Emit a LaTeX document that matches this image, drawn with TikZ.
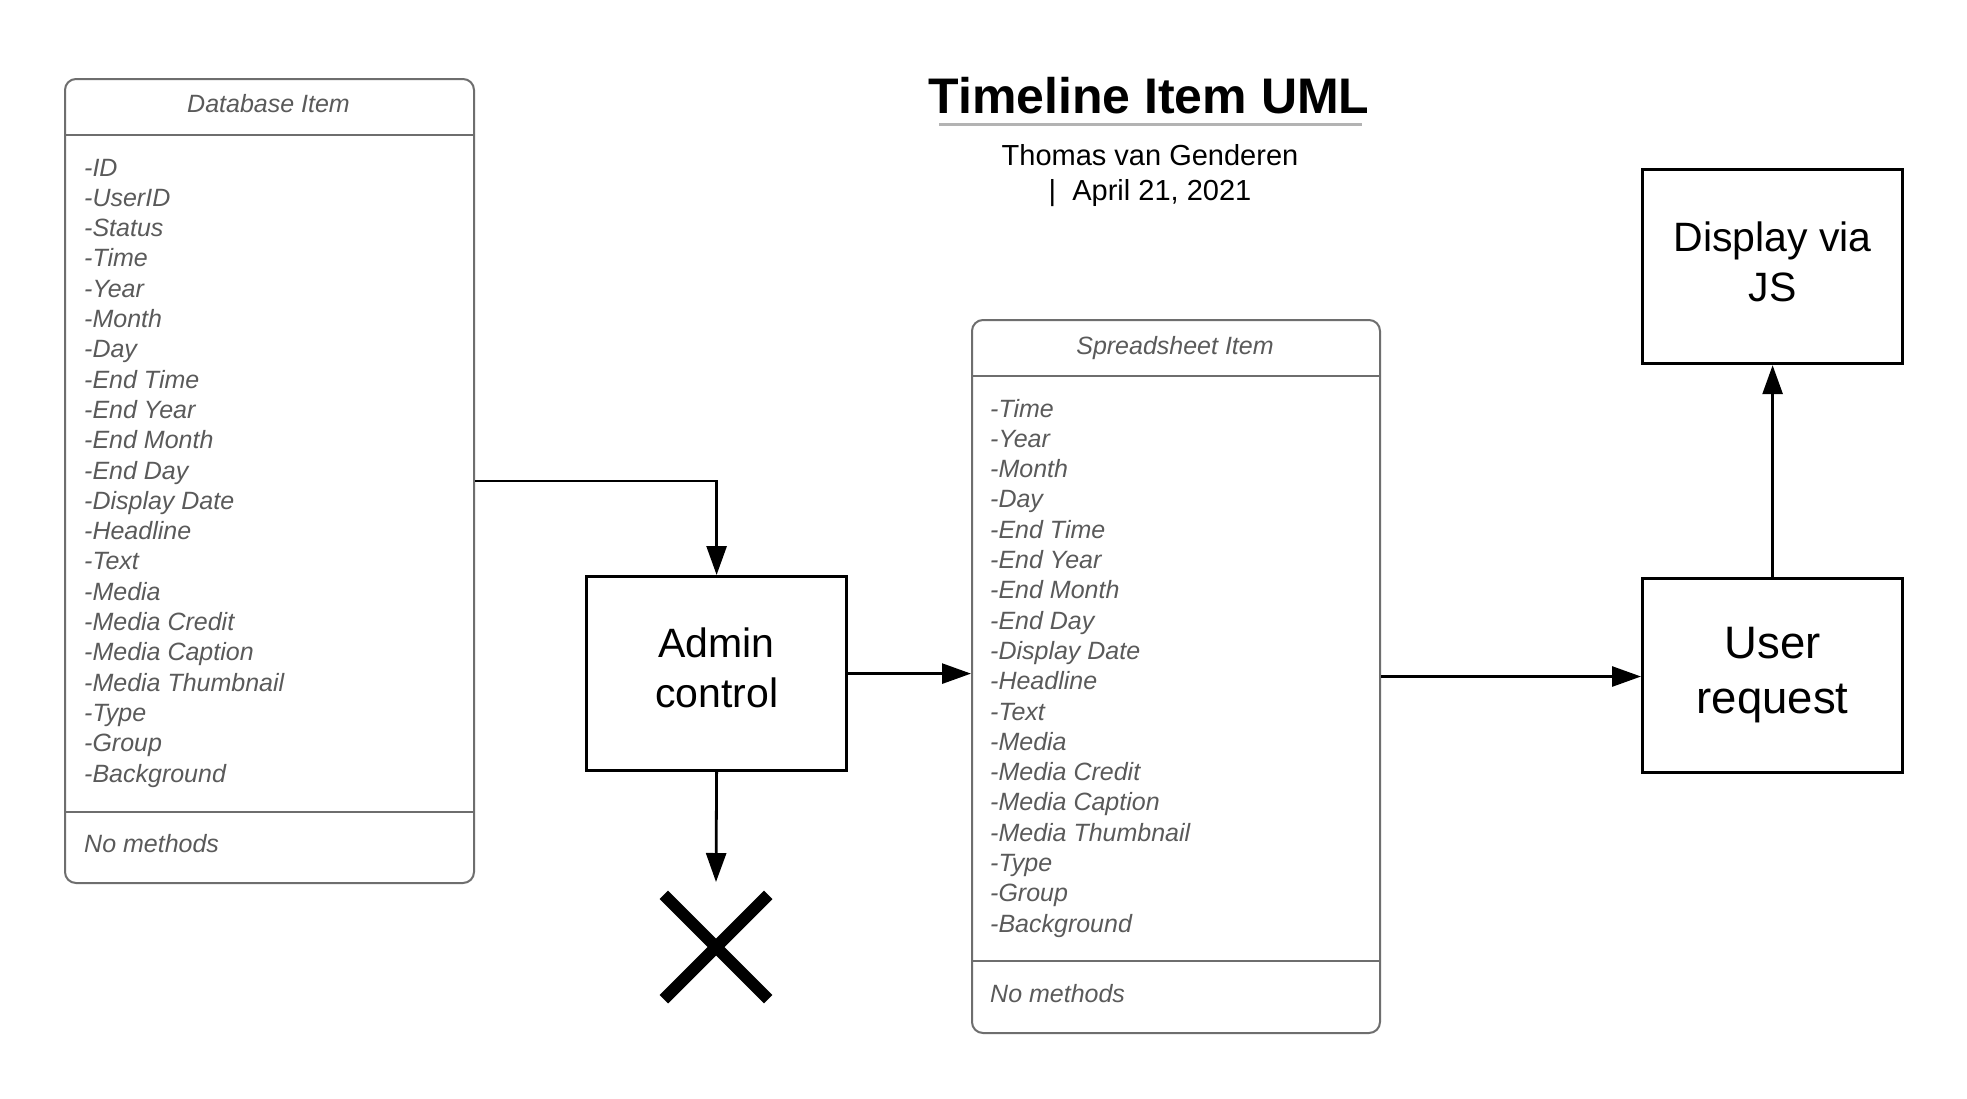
\documentclass[tikz,border=0pt]{standalone}
\usepackage{fontspec}
\setmainfont{Liberation Sans}
\usetikzlibrary{arrows.meta,calc}
\definecolor{umlborder}{HTML}{6E6E6E}
\definecolor{umltext}{HTML}{5A5A5A}
\definecolor{titleline}{HTML}{B3B3B3}
\begin{document}
\begin{tikzpicture}[x=1pt,y=-1pt,
  umlbox/.style={draw=umlborder,line width=2pt,rounded corners=11pt,anchor=north west,inner sep=0pt},
  umlsep/.style={draw=umlborder,line width=2pt},
  umlitem/.style={anchor=base west,inner sep=0pt,text=umltext,font=\fontsize{25}{30}\selectfont\itshape},
  umlhead/.style={anchor=base,inner sep=0pt,text=umltext,font=\fontsize{25}{30}\selectfont\itshape},
  procbox/.style={draw=black,line width=3.2pt,anchor=north west,inner sep=0pt},
  proctext/.style={inner sep=0pt,align=center},
  conn/.style={draw=black,line width=2.8pt,-{Triangle[length=29pt,width=20pt]}}
]
\useasboundingbox (0,0) rectangle (1967,1098);
\fill[white] (0,0) rectangle (1967,1098);

% Title
\node[anchor=base,inner sep=0pt,font=\fontsize{50}{58}\selectfont\bfseries] (title) at (1149,113) {Timeline Item UML};
\draw[titleline,line width=3pt] (939,124) -- (1362,124);
\node[anchor=base,inner sep=0pt,font=\fontsize{29}{34}\selectfont] (author) at (1150,165) {Thomas van Genderen};
\node[anchor=base,inner sep=0pt,font=\fontsize{29}{34}\selectfont] (date) at (1150,200) {|\ \ April 21, 2021};

% Database Item
\node[umlbox,minimum width=409pt,minimum height=804pt] (db) at (64,78) {};
\draw[umlsep] (64,135) -- (473,135);
\draw[umlsep] (64,812) -- (473,812);
\node[umlhead] (dbhead) at (268.5,112) {Database Item};
\foreach \t [count=\i from 0] in {-ID,-UserID,-Status,-Time,-Year,-Month,-Day,-End Time,-End Year,-End Month,-End Day,-Display Date,-Headline,-Text,-Media,-Media Credit,-Media Caption,-Media Thumbnail,-Type,-Group,-Background}
  \node[umlitem] (dbi\i) at (84,{176+30.3*\i}) {\t};
\node[umlitem] (dbm) at (84,852) {No methods};

% Spreadsheet Item
\node[umlbox,minimum width=408pt,minimum height=713pt] (ss) at (971,319) {};
\draw[umlsep] (971,376) -- (1379,376);
\draw[umlsep] (971,961) -- (1379,961);
\node[umlhead] (sshead) at (1175,354) {Spreadsheet Item};
\foreach \t [count=\i from 0] in {-Time,-Year,-Month,-Day,-End Time,-End Year,-End Month,-End Day,-Display Date,-Headline,-Text,-Media,-Media Credit,-Media Caption,-Media Thumbnail,-Type,-Group,-Background}
  \node[umlitem] (ssi\i) at (990,{417+30.3*\i}) {\t};
\node[umlitem] (ssm) at (990,1002) {No methods};

% Process boxes
\node[procbox,minimum width=260pt,minimum height=194pt] (admin) at (585,575) {};
\node[proctext,font=\fontsize{41}{50}\selectfont] (admintxt) at ([yshift=6pt]admin.center) {Admin\\control};
\node[procbox,minimum width=260pt,minimum height=194pt] (user) at (1641,577) {};
\node[proctext,font=\fontsize{45.5}{55}\selectfont] (usertxt) at ([yshift=1pt]user.center) {User\\request};
\node[procbox,minimum width=260pt,minimum height=194pt] (disp) at (1641,168) {};
\node[proctext,font=\fontsize{41}{50}\selectfont] (disptxt) at ([yshift=5pt]disp.center) {Display via\\JS};

% X mark
\coordinate (xend) at (716,882);
\node[inner sep=0pt,minimum size=104pt] (xmark) at (716,947) {};
\draw[line width=12pt] (xmark.north west) -- (xmark.south east);
\draw[line width=12pt] (xmark.north east) -- (xmark.south west);

% Connectors
\draw[conn] (db.east) -| (admin.north);
\draw[conn] (admin.east) -- (admin.east -| ss.west);
\draw[conn] (ss.east) -- (ss.east -| user.west);
\draw[conn] (user.north) -- (disp.south);
\draw[conn] (admin.south) -- (xend);
\end{tikzpicture}
\end{document}
